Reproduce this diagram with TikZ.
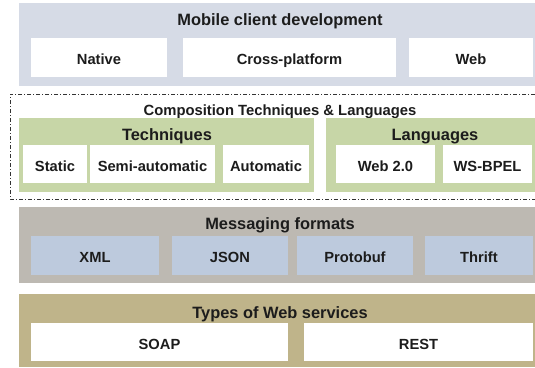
\documentclass[tikz,border=0pt]{standalone}
\usepackage{fontspec}
\setmainfont{Liberation Sans}
\definecolor{txt}{HTML}{1C1C1C}
\definecolor{mobilebg}{HTML}{D6DBE6}
\definecolor{greenbg}{HTML}{C7D6A7}
\definecolor{graybg}{HTML}{BDB9B2}
\definecolor{bluebox}{HTML}{BDCADD}
\definecolor{khakibg}{HTML}{BFB48A}
\definecolor{dashcol}{HTML}{333333}
\newcommand\rbox[7]{%
  \node[#7, minimum width={#4-#2}, minimum height={#5-#3}] (#1) at ({(#2+#4)/2},{(#3+#5)/2}) {#6};}
\tikzset{
  area/.style={inner sep=0pt, outer sep=0pt, draw=none},
  wbox/.style={area, fill=white, text=txt, font=\fontsize{14.7}{16}\selectfont\bfseries,
    text height=14pt, text depth=0pt},
  bbox/.style={wbox, fill=bluebox},
  bigtitle/.style={inner sep=0pt, text=txt, font=\fontsize{16.4}{18}\selectfont\bfseries,
    text height=11.8pt, text depth=0pt},
  midtitle/.style={inner sep=0pt, text=txt, font=\fontsize{14.8}{17}\selectfont\bfseries,
    text height=10.7pt, text depth=0pt},
  dashframe/.style={draw=dashcol, line width=0.9pt, dash pattern=on 4pt off 2pt on 1pt off 2pt}
}
\begin{document}
\begin{tikzpicture}[x=1pt,y=-1pt]
\useasboundingbox (0,0) rectangle (535,367);
% Mobile client development
\rbox{mobile}{19}{3}{535}{86}{}{area, fill=mobilebg}
\node[bigtitle] (mobiletitle) at (280,20) {Mobile client development};
\rbox{native}{31}{38}{167}{77}{Native}{wbox}
\rbox{cross}{183}{38}{396}{77}{Cross-platform}{wbox}
\rbox{web}{409}{38}{533}{77}{Web}{wbox}
% Composition frame
\rbox{comp}{10}{94}{535}{199}{}{area}
\draw[dashframe] (comp.north east) -- (comp.north west) -- (comp.south west) -- (comp.south east);
\node[midtitle] (comptitle) at (280,110.5) {Composition Techniques \& Languages};
\rbox{tech}{19}{118}{314}{192}{}{area, fill=greenbg}
\node[bigtitle] (techtitle) at (167,135) {Techniques};
\rbox{static}{23}{145}{87}{183}{Static}{wbox}
\rbox{semi}{90}{145}{215}{183}{Semi-automatic}{wbox}
\rbox{auto}{223}{145}{309}{183}{Automatic}{wbox}
\rbox{lang}{326}{118}{535}{192}{}{area, fill=greenbg}
\node[bigtitle] (langtitle) at (435,135) {Languages};
\rbox{webtwo}{336}{145}{435}{183}{Web 2.0}{wbox}
\rbox{wsbpel}{443}{145}{532}{183}{WS-BPEL}{wbox}
% Messaging formats
\rbox{msg}{19}{207}{535}{283}{}{area, fill=graybg}
\node[bigtitle] (msgtitle) at (280,224) {Messaging formats};
\rbox{xml}{31}{236}{159}{275}{XML}{bbox}
\rbox{json}{172}{236}{288}{275}{JSON}{bbox}
\rbox{proto}{297}{236}{413}{275}{Protobuf}{bbox}
\rbox{thrift}{425}{236}{533}{275}{Thrift}{bbox}
% Types of Web services
\rbox{types}{19}{294}{535}{367}{}{area, fill=khakibg}
\node[bigtitle] (typestitle) at (280,313) {Types of Web services};
\rbox{soap}{31}{323}{288}{361}{SOAP}{wbox}
\rbox{rest}{304}{323}{533}{361}{REST}{wbox}
\end{tikzpicture}
\end{document}
